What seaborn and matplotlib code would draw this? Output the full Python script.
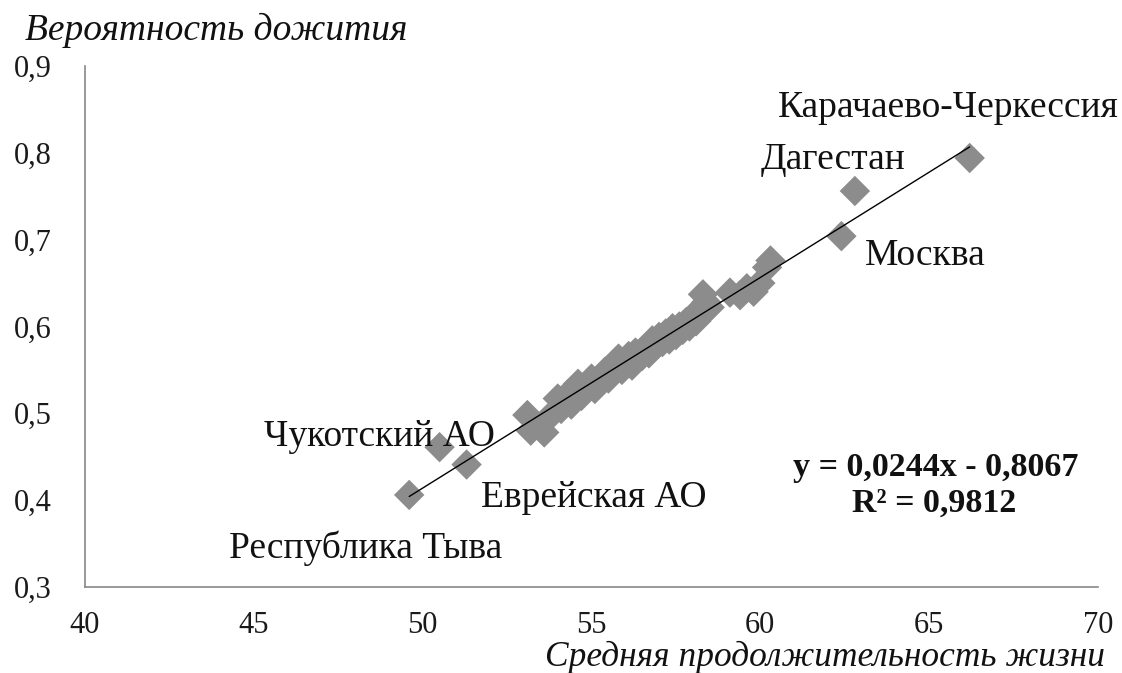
#!/usr/bin/env python3

import pandas as pd
import seaborn as sns
from matplotlib import pyplot as plt

# regions: average life expectancy vs survival probability
life_exp = [49.6, 50.5, 51.3, 62.4, 62.8, 66.2,
            53.1, 53.2, 53.6, 53.7, 54.0, 54.1, 54.3, 54.4,
            54.6, 54.7, 54.8, 55.0, 55.1, 55.2, 55.4, 55.5, 55.6,
            55.8, 55.9, 56.0, 56.1, 56.2, 56.3, 56.5, 56.6, 56.7,
            56.8, 56.9, 57.0, 57.1, 57.2, 57.3, 57.4, 57.5, 57.6,
            57.7, 57.8, 57.9, 58.0, 58.1, 58.2, 58.3, 58.4, 58.5,
            59.1, 59.4, 59.6, 59.8, 60.0, 60.2, 60.3]
survival = [0.406, 0.461, 0.441, 0.704, 0.756, 0.794,
            0.498, 0.480, 0.478, 0.494, 0.517, 0.505, 0.522, 0.510,
            0.534, 0.520, 0.529, 0.540, 0.528, 0.536, 0.548, 0.540, 0.553,
            0.563, 0.550, 0.558, 0.566, 0.555, 0.570, 0.566, 0.575, 0.569,
            0.584, 0.578, 0.588, 0.582, 0.592, 0.585, 0.598, 0.590, 0.600,
            0.596, 0.605, 0.600, 0.612, 0.606, 0.618, 0.637, 0.628, 0.622,
            0.639, 0.636, 0.644, 0.640, 0.650, 0.668, 0.676]

labels = ["Карачаево-Черкессия", "Дагестан", "Москва",
          "Чукотский АО", "Еврейская АО", "Республика Тыва"]
label_x = [65.58, 62.15, 64.87, 48.71, 55.07, 48.32]
label_y = [0.852, 0.792, 0.682, 0.473, 0.403, 0.345]

x_ticks = [40, 45, 50, 55, 60, 65, 70]
y_ticks = [0.3, 0.4, 0.5, 0.6, 0.7, 0.8, 0.9]
y_tick_labels = ["0,3", "0,4", "0,5", "0,6", "0,7", "0,8", "0,9"]

equation = "y = 0,0244x - 0,8067"
r_squared = "R² = 0,9812"

df = pd.DataFrame({"life": life_exp, "surv": survival})

sns.set_theme(style="white")
plt.rcParams["font.family"] = ["Liberation Serif", "DejaVu Serif"]

fig = plt.figure(figsize=(11.22, 6.73), dpi=100)
ax = fig.add_axes([0.0758, 0.1278, 0.9028, 0.7742])

sns.scatterplot(data=df, x="life", y="surv", ax=ax, marker="D", s=240,
                color="#8c8c8c", edgecolor="none", zorder=2)
sns.regplot(data=df, x="life", y="surv", ax=ax, scatter=False, ci=None,
            truncate=True, color="black", line_kws={"linewidth": 1, "zorder": 3})

ax.set_xlim(40, 70)
ax.set_ylim(0.3, 0.9)
ax.set_xticks(x_ticks)
ax.set_xticklabels([str(t) for t in x_ticks])
ax.set_yticks(y_ticks)
ax.set_yticklabels(y_tick_labels)
ax.tick_params(axis="both", labelsize=22, colors="#888888", labelcolor="#1a1a1a",
               direction="out", length=7, width=1.2)
ax.tick_params(axis="x", pad=10)
ax.tick_params(axis="y", pad=17)

for side in ["top", "right"]:
    ax.spines[side].set_visible(False)
for side in ["left", "bottom"]:
    ax.spines[side].set_color("#888888")
    ax.spines[side].set_linewidth(1.2)

ax.set_xlabel("")
ax.set_ylabel("")

for txt, lx, ly in zip(labels, label_x, label_y):
    ax.text(lx, ly, txt, fontsize=27, ha="center", va="center", color="#111111")

ax.text(65.2, 0.438, equation, fontsize=24.5, fontweight="bold",
        ha="center", va="center", color="#111111")
ax.text(65.14, 0.397, r_squared, fontsize=24.5, fontweight="bold",
        ha="center", va="center", color="#111111")

fig.text(25 / 1122, 1 - 30 / 673, "Вероятность дожития", fontsize=27,
         style="italic", ha="left", va="center", color="#111111")
fig.text(1105 / 1122, 1 - 657 / 673, "Средняя продолжительность жизни",
         fontsize=25.5, style="italic", ha="right", va="center", color="#111111")

fig.savefig("out.png", dpi=100)
